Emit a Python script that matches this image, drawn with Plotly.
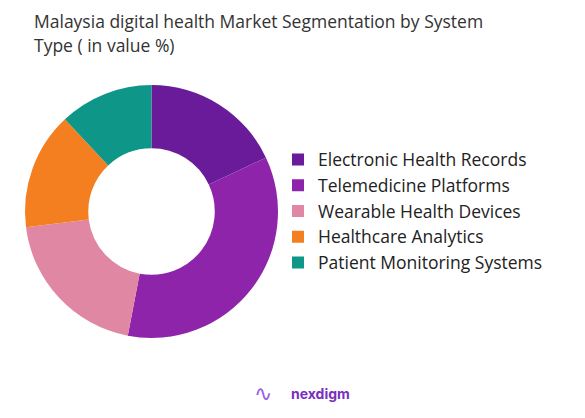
import plotly.graph_objects as go

# segment shares (value %)
segments = [
    "Electronic Health Records",
    "Telemedicine Platforms",
    "Wearable Health Devices",
    "Healthcare Analytics",
    "Patient Monitoring Systems",
]
shares = [18, 35, 20, 15, 12]
colors = ["#6A1B9A", "#8E24AA", "#E088A3", "#F47F20", "#0E9688"]
title_lines = ["Malaysia digital health Market Segmentation by System", "Type ( in value %)"]

W, H = 585, 418
OFF = 8  # page body margin shifts the whole figure


def px(x):
    return (x - OFF) / W


def py(y):
    return 1 - (y - OFF) / H


fig = go.Figure()
fig.add_trace(
    go.Pie(
        labels=segments, values=shares, hole=0.5, sort=False,
        direction="clockwise", rotation=0,
        marker=dict(colors=colors, line=dict(width=0)),
        textinfo="none", hoverinfo="label+percent",
        domain=dict(x=[px(25), px(278)], y=[py(338), py(85)]),
    )
)

fig.update_layout(
    width=W, height=H,
    paper_bgcolor="white", plot_bgcolor="white",
    margin=dict(l=0, r=0, t=0, b=0),
    font=dict(family="Open Sans", color="#333333"),
    legend=dict(
        x=px(278), xanchor="left", y=py(211), yanchor="middle",
        font=dict(size=17.5, color="#222222"), itemwidth=30,
        bgcolor="rgba(0,0,0,0)",
    ),
)

for line, yc in zip(title_lines, [21, 45]):
    fig.add_annotation(
        text=line, x=px(32), y=py(yc), xref="paper", yref="paper",
        xanchor="left", yanchor="middle", showarrow=False,
        font=dict(size=17.5, color="#333333", family="Open Sans"),
    )

# brand mark at the bottom
fig.add_annotation(
    text="<b>nexdigm</b>", x=px(289), y=py(393), xref="paper", yref="paper",
    xanchor="left", yanchor="middle", showarrow=False,
    font=dict(size=14, color="#7B2FBE", family="Inter"),
)
fig.add_annotation(
    text="∿", x=px(274), y=py(393), xref="paper", yref="paper",
    xanchor="right", yanchor="middle", showarrow=False,
    font=dict(size=22, color="#9B5DE5", family="DejaVu Sans"),
)

fig.write_html("out.html")
